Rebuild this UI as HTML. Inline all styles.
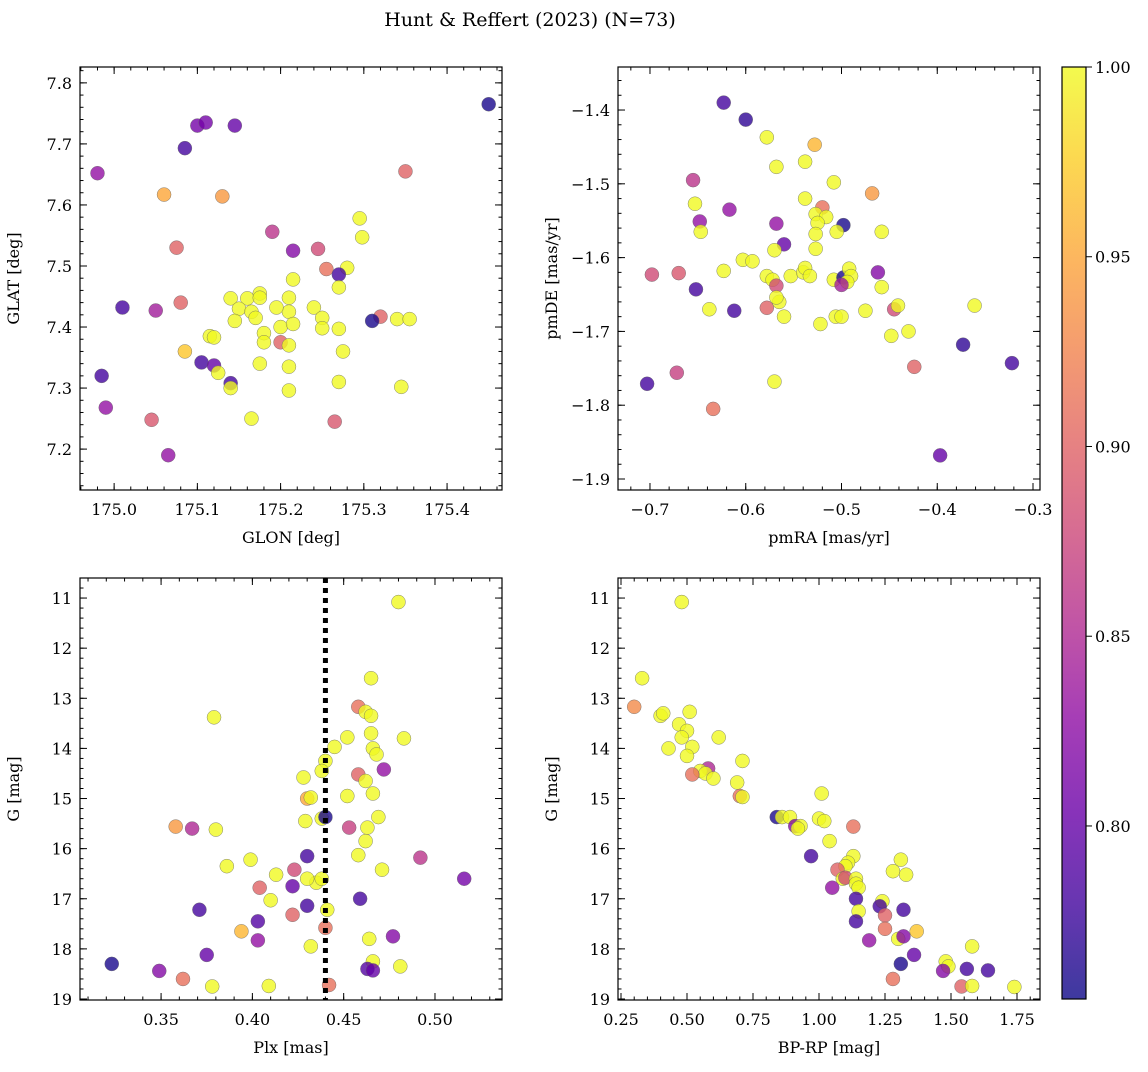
<!DOCTYPE html>
<html><head><meta charset="utf-8"><style>
body{margin:0;background:#fff;}
svg text{font-family:"DejaVu Serif","Liberation Serif",serif;fill:#000;}
</style></head><body>
<svg id="fig" width="1148" height="1067" viewBox="0 0 1148 1067" xmlns="http://www.w3.org/2000/svg">
<defs>
<linearGradient id="cbg" x1="0" y1="1" x2="0" y2="0">
<stop offset="0" stop-color="#0d0887"/><stop offset="0.1" stop-color="#41049d"/><stop offset="0.2" stop-color="#6a00a8"/><stop offset="0.3" stop-color="#8f0da4"/><stop offset="0.4" stop-color="#b12a90"/><stop offset="0.5" stop-color="#cc4778"/><stop offset="0.6" stop-color="#e16462"/><stop offset="0.7" stop-color="#f2844b"/><stop offset="0.8" stop-color="#fca636"/><stop offset="0.9" stop-color="#fcce25"/><stop offset="1" stop-color="#f0f921"/>
</linearGradient>
</defs>
<text x="530" y="26" font-size="19" text-anchor="middle">Hunt &amp; Reffert (2023) (N=73)</text>
</svg>
<script>
// Panel 1: GLON vs GLAT
const glonX=[175.45,174.98,175.06,175.13,175.35,175.10,175.11,175.145,175.085,175.19,175.075,175.215,175.245,175.295,175.298,175.255,175.28,175.27,175.215,175.27,175.01,175.08,175.05,175.14,175.16,175.175,175.175,175.21,175.24,175.25,175.15,175.165,175.17,175.21,175.145,175.32,175.31,175.34,175.355,175.195,175.2,175.215,175.25,175.27,175.115,175.12,175.18,175.18,175.2,175.21,175.085,175.275,175.105,175.12,175.125,175.175,175.21,174.985,175.14,175.14,175.27,175.345,174.99,175.045,175.165,175.21,175.265,175.065];
const glatY=[7.765,7.652,7.617,7.614,7.655,7.73,7.735,7.73,7.693,7.556,7.53,7.525,7.528,7.578,7.547,7.495,7.497,7.486,7.478,7.465,7.432,7.44,7.427,7.447,7.447,7.455,7.448,7.448,7.432,7.415,7.43,7.425,7.415,7.425,7.41,7.417,7.41,7.413,7.413,7.432,7.4,7.405,7.398,7.397,7.385,7.383,7.39,7.375,7.375,7.37,7.36,7.36,7.342,7.337,7.325,7.34,7.335,7.32,7.308,7.3,7.31,7.302,7.268,7.248,7.25,7.296,7.245,7.19];
const glonC=[0.76,0.83,0.95,0.94,0.9,0.81,0.81,0.8,0.78,0.86,0.9,0.82,0.88,1,1,0.91,1,0.78,1,1,0.78,0.9,0.84,1,1,1,1,1,1,1,1,1,1,1,1,0.9,0.76,1,1,1,1,1,1,1,1,1,1,1,0.9,1,0.97,1,0.78,0.8,1,1,1,0.78,0.78,1,1,1,0.83,0.89,1,1,0.89,0.83];
// Panel 2: pmRA vs pmDE
const pmraX=[-0.623,-0.6,-0.578,-0.528,-0.568,-0.538,-0.655,-0.508,-0.468,-0.653,-0.538,-0.52,-0.617,-0.527,-0.516,-0.648,-0.525,-0.498,-0.568,-0.647,-0.505,-0.458,-0.527,-0.56,-0.57,-0.527,-0.603,-0.593,-0.698,-0.67,-0.623,-0.578,-0.572,-0.553,-0.54,-0.538,-0.533,-0.508,-0.498,-0.492,-0.49,-0.494,-0.5,-0.462,-0.652,-0.568,-0.458,-0.638,-0.612,-0.578,-0.565,-0.568,-0.56,-0.522,-0.506,-0.5,-0.475,-0.445,-0.441,-0.361,-0.43,-0.448,-0.373,-0.322,-0.424,-0.703,-0.672,-0.57,-0.634,-0.397];
const pmdeY=[-1.39,-1.413,-1.437,-1.447,-1.477,-1.47,-1.495,-1.498,-1.513,-1.527,-1.52,-1.532,-1.535,-1.541,-1.545,-1.551,-1.553,-1.556,-1.554,-1.565,-1.565,-1.565,-1.568,-1.582,-1.59,-1.588,-1.603,-1.605,-1.623,-1.621,-1.618,-1.625,-1.63,-1.625,-1.62,-1.614,-1.625,-1.63,-1.627,-1.615,-1.625,-1.633,-1.637,-1.62,-1.643,-1.638,-1.64,-1.67,-1.672,-1.668,-1.66,-1.654,-1.68,-1.69,-1.68,-1.68,-1.672,-1.67,-1.665,-1.665,-1.7,-1.706,-1.718,-1.743,-1.748,-1.771,-1.756,-1.768,-1.805,-1.868];
const pmC=[0.78,0.77,1,0.96,1,1,0.86,1,0.94,1,1,0.91,0.83,1,1,0.83,1,0.76,0.83,1,1,1,1,0.8,1,1,1,1,0.88,0.89,1,1,1,1,1,1,1,1,0.76,1,1,1,0.84,0.82,0.78,0.88,1,1,0.78,0.9,1,1,1,1,1,1,1,0.88,1,1,1,1,0.77,0.78,0.9,0.78,0.87,1,0.91,0.8];
// Panel 3: Plx vs G
const plxX=[0.48,0.465,0.458,0.462,0.465,0.379,0.465,0.483,0.452,0.445,0.466,0.468,0.44,0.438,0.472,0.458,0.428,0.462,0.466,0.452,0.43,0.432,0.429,0.438,0.44,0.469,0.358,0.367,0.38,0.453,0.463,0.462,0.43,0.458,0.386,0.399,0.492,0.471,0.423,0.413,0.435,0.438,0.43,0.516,0.404,0.422,0.41,0.441,0.459,0.43,0.371,0.403,0.422,0.44,0.394,0.403,0.464,0.477,0.432,0.375,0.466,0.481,0.323,0.349,0.362,0.463,0.466,0.378,0.409,0.442];
const plxG=[11.08,12.6,13.17,13.27,13.35,13.38,13.7,13.8,13.78,13.97,14.0,14.12,14.25,14.45,14.42,14.52,14.58,14.65,14.9,14.95,15.0,14.98,15.45,15.4,15.37,15.37,15.56,15.6,15.62,15.58,15.58,15.85,16.15,16.13,16.35,16.22,16.18,16.42,16.42,16.52,16.68,16.6,16.6,16.6,16.78,16.75,17.03,17.22,17.0,17.14,17.22,17.45,17.32,17.58,17.65,17.83,17.8,17.75,17.95,18.12,18.25,18.35,18.3,18.44,18.6,18.4,18.43,18.75,18.74,18.72];
const plxC=[1,1,0.91,1,1,1,1,1,1,1,1,1,1,1,0.83,0.9,1,1,1,1,0.95,1,1,1,0.76,1,0.94,0.85,1,0.87,1,1,0.78,1,1,1,0.86,1,0.88,1,1,1,1,0.81,0.9,0.8,1,1,0.78,0.78,0.78,0.79,0.9,0.91,0.96,0.83,1,0.82,1,0.8,1,1,0.76,0.82,0.91,0.79,0.8,1,1,0.91];
const plxRef=[0.44];
// Panel 4: BP-RP vs G
const bprpX=[0.48,0.33,0.3,0.51,0.4,0.41,0.47,0.5,0.48,0.62,0.43,0.52,0.5,0.71,0.58,0.55,0.57,0.52,0.6,0.69,0.7,0.71,1.01,0.84,0.86,0.89,1.0,1.02,0.91,0.93,0.92,1.13,1.04,0.97,1.13,1.11,1.1,1.31,1.07,1.28,1.33,1.09,1.1,1.14,1.14,1.05,1.15,1.14,1.24,1.23,1.32,1.15,1.14,1.25,1.25,1.37,1.19,1.3,1.32,1.58,1.36,1.31,1.48,1.49,1.47,1.28,1.56,1.64,1.54,1.58,1.74];
const bprpG=[11.08,12.6,13.17,13.27,13.35,13.3,13.52,13.65,13.78,13.78,14.0,13.97,14.15,14.25,14.4,14.45,14.5,14.52,14.6,14.68,14.95,14.97,14.9,15.37,15.37,15.37,15.4,15.45,15.55,15.55,15.6,15.56,15.85,16.15,16.15,16.28,16.35,16.22,16.42,16.45,16.52,16.6,16.58,16.6,16.7,16.78,16.78,17.0,17.05,17.15,17.22,17.25,17.45,17.33,17.6,17.65,17.83,17.8,17.75,17.95,18.12,18.3,18.25,18.35,18.44,18.6,18.4,18.43,18.75,18.74,18.76];
const bprpC=[1,1,0.93,1,1,1,1,1,1,1,1,1,1,1,0.85,1,1,0.91,1,1,0.91,1,1,0.76,1,1,1,1,0.82,1,1,0.91,1,0.78,1,1,1,1,0.9,1,1,1,0.88,1,1,0.83,1,0.78,1,0.78,0.78,1,0.78,0.9,0.91,0.97,0.83,1,0.82,1,0.8,0.76,1,1,0.82,0.91,0.78,0.78,0.9,1,1];
const cbTicks=[0.80,0.85,0.90,0.95,1.00];
const CMIN=0.7544, CMAX=1.0;

const NS='http://www.w3.org/2000/svg';
const svg=document.getElementById('fig');
const stops=['#0d0887','#41049d','#6a00a8','#8f0da4','#b12a90','#cc4778','#e16462','#f2844b','#fca636','#fcce25','#f0f921'];
function hex(h){return [1,3,5].map(i=>parseInt(h.substr(i,2),16));}
function plasma(c){let t=(c-CMIN)/(CMAX-CMIN);t=Math.max(0,Math.min(1,t));const f=t*10;const i=Math.min(9,Math.floor(f));const u=f-i;const a=hex(stops[i]),b=hex(stops[i+1]);return 'rgb('+a.map((v,k)=>Math.round(v+(b[k]-v)*u)).join(',')+')';}
function mk(tag,attrs,parent){const e=document.createElementNS(NS,tag);for(const k in attrs)e.setAttribute(k,attrs[k]);(parent||svg).appendChild(e);return e;}

function panel(name,box,xr,yr,xt,xminor,yt,yminor,xfmt,yfmt,xlab,ylab,xs,ys,cs,invertY){
  const g=mk('g',{});
  
  
  const X=v=>box.x+(v-xr[0])/(xr[1]-xr[0])*box.w;
  const Y=invertY?(v=>box.y+(v-yr[0])/(yr[1]-yr[0])*box.h):(v=>box.y+box.h-(v-yr[0])/(yr[1]-yr[0])*box.h);
  for(let i=0;i<xs.length;i++){
    const c=mk('circle',{cx:X(xs[i]),cy:Y(ys[i]),r:7,fill:plasma(cs[i]),'fill-opacity':0.8,stroke:'#666','stroke-width':0.5,'stroke-opacity':0.8},g);
    
    
  }
  const fr=mk('rect',{x:box.x,y:box.y,width:box.w,height:box.h,fill:'none',stroke:'#000','stroke-width':1.2},g);
  
  
  const tg=mk('g',{stroke:'#000','stroke-width':1},g);
  function xtick(v,len){const x=X(v);if(x<box.x-0.5||x>box.x+box.w+0.5)return;mk('line',{x1:x,x2:x,y1:box.y+box.h,y2:box.y+box.h-len},tg);mk('line',{x1:x,x2:x,y1:box.y,y2:box.y+len},tg);}
  function ytick(v,len){const y=Y(v);if(y<box.y-0.5||y>box.y+box.h+0.5)return;mk('line',{x1:box.x,x2:box.x+len,y1:y,y2:y},tg);mk('line',{x1:box.x+box.w,x2:box.x+box.w-len,y1:y,y2:y},tg);}
  const lo=Math.min(...xr),hi=Math.max(...xr);
  for(let v=Math.ceil(lo/xminor-1e-6)*xminor;v<=hi+1e-9;v+=xminor)xtick(v,3.5);
  const ylo=Math.min(...yr),yhi=Math.max(...yr);
  for(let v=Math.ceil(ylo/yminor-1e-6)*yminor;v<=yhi+1e-9;v+=yminor)ytick(v,3.5);
  xt.forEach(v=>{xtick(v,7);const t=mk('text',{x:X(v),y:box.y+box.h+25,'font-size':16,'text-anchor':'middle'},g);t.textContent=xfmt(v);});
  yt.forEach(v=>{ytick(v,7);const t=mk('text',{x:box.x-8,y:Y(v)+6,'font-size':16,'text-anchor':'end'},g);t.textContent=yfmt(v);});
  const xl=mk('text',{x:box.x+box.w/2,y:box.y+box.h+53,'font-size':16,'text-anchor':'middle'},g);xl.textContent=xlab;
  
  
  const yx=box.x-61, yy=box.y+box.h/2;
  const yl=mk('text',{x:yx,y:yy,'font-size':16,'text-anchor':'middle',transform:'rotate(-90 '+yx+' '+yy+')'},g);yl.textContent=ylab;
  
  
  return {X,Y,g};
}
const minus=s=>s.replace('-','\u2212');
panel('glon-glat-panel',{x:80,y:67,w:422,h:423},[174.959,175.466],[7.133,7.826],[175.0,175.1,175.2,175.3,175.4],0.02,[7.2,7.3,7.4,7.5,7.6,7.7,7.8],0.02,v=>v.toFixed(1),v=>v.toFixed(1),'GLON [deg]','GLAT [deg]',glonX,glatY,glonC,false);
panel('pm-panel',{x:618,y:67,w:422,h:423},[-0.7334,-0.2927],[-1.9149,-1.3417],[-0.7,-0.6,-0.5,-0.4,-0.3],0.02,[-1.9,-1.8,-1.7,-1.6,-1.5,-1.4],0.02,v=>minus(v.toFixed(1)),v=>minus(v.toFixed(1)),'pmRA [mas/yr]','pmDE [mas/yr]',pmraX,pmdeY,pmC,false);
const p3=panel('plx-g-panel',{x:80,y:578,w:422,h:422},[0.3056,0.5367],[10.6,19.02],[0.35,0.40,0.45,0.50],0.01,[11,12,13,14,15,16,17,18,19],0.2,v=>v.toFixed(2),v=>String(v),'Plx [mas]','G [mag]',plxX,plxG,plxC,true);
panel('color-mag-panel',{x:618,y:578,w:422,h:422},[0.2386,1.8371],[10.6,19.02],[0.25,0.5,0.75,1.0,1.25,1.5,1.75],0.05,[11,12,13,14,15,16,17,18,19],0.2,v=>v.toFixed(2),v=>String(v),'BP-RP [mag]','G [mag]',bprpX,bprpG,bprpC,true);
plxRef.forEach(v=>{const l=mk('line',{x1:p3.X(v),x2:p3.X(v),y1:578,y2:1000,stroke:'#000','stroke-width':5,'stroke-dasharray':'5,5'},p3.g);

});
// colorbar
const cb=mk('g',{});


mk('rect',{x:1062,y:67,width:24,height:932,fill:'url(#cbg)','fill-opacity':0.8},cb);
mk('rect',{x:1062,y:67,width:24,height:932,fill:'none',stroke:'#000','stroke-width':1.2},cb);
const CY=v=>999-(v-CMIN)/(CMAX-CMIN)*932;
cbTicks.forEach(v=>{const y=CY(v);mk('line',{x1:1086,x2:1092,y1:y,y2:y,stroke:'#000'},cb);
const t=mk('text',{x:1095,y:y+6,'font-size':16},cb);t.textContent=v.toFixed(2);

});
</script>
</body></html>
